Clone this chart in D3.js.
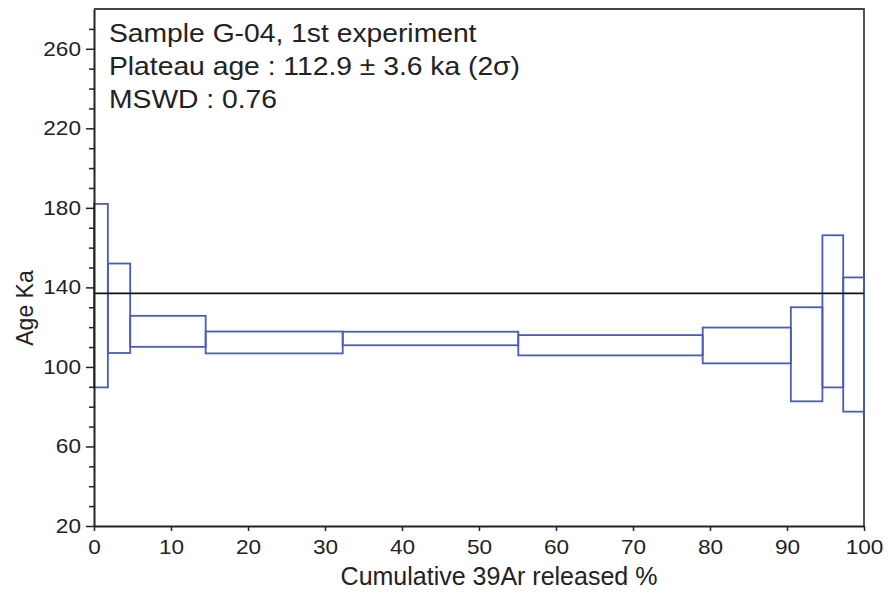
<!DOCTYPE html>
<html>
<head>
<meta charset="utf-8">
<script src="https://cdn.jsdelivr.net/npm/d3@7"></script>
<style>
  body { margin: 0; background: #fff; }
  text { font-family: "Liberation Sans", Arial, sans-serif; fill: #222; }
</style>
</head>
<body>
<svg id="chart"></svg>
<script>
// cumulative 39Ar % at each step boundary
const stepEdges = [0, 1.8, 4.7, 14.5, 32.3, 55.1, 79.05, 90.5, 94.6, 97.3, 100];
// age (ka) top and bottom of each 2-sigma box
const ageHigh = [182, 152, 125.7, 117.8, 117.7, 116, 119.8, 130, 166.2, 145];
const ageLow  = [89.7, 107, 110.1, 106.8, 110.9, 105.8, 101.8, 82.7, 89.7, 77.5];
const plateauLine = 137;

const xTicks = [0, 10, 20, 30, 40, 50, 60, 70, 80, 90, 100];
const yMajorTicks = [20, 60, 100, 140, 180, 220, 260];
const yMinorTicks = [30, 40, 50, 70, 80, 90, 110, 120, 130, 150, 160, 170, 190, 200, 210, 230, 240, 250, 270];

const notes = ['Sample G-04, 1st experiment', 'Plateau age : 112.9 \u00b1 3.6 ka (2\u03c3)', 'MSWD : 0.76'];

const size = {w: 888, h: 592};
const plot = {l: 94, r: 864, t: 9, b: 526};

const svg = d3.select('svg#chart')
    .attr('width', size.w)
    .attr('height', size.h);

const x = d3.scaleLinear().domain([0, 100]).range([plot.l, plot.r]);
const y = d3.scaleLinear().domain([20, 280]).range([plot.b, plot.t]);

const boxColor = '#4a5cb8';

//frame (top + right)
svg.append('path')
    .attr('d', `M${plot.l},${plot.t}H${plot.r}V${plot.b}`)
    .attr('fill', 'none')
    .attr('stroke', '#444')
    .attr('stroke-width', 1.8);

//STEP BOXES
const steps = ageHigh.map((d, i) => ({x0: stepEdges[i], x1: stepEdges[i + 1], hi: d, lo: ageLow[i]}));

svg.append('g')
    .selectAll('rect')
    .data(steps)
    .join('rect')
    .attr('x', d => x(d.x0))
    .attr('y', d => y(d.hi))
    .attr('width', d => x(d.x1) - x(d.x0))
    .attr('height', d => y(d.lo) - y(d.hi))
    .attr('fill', 'none')
    .attr('stroke', boxColor)
    .attr('stroke-width', 1.8);

//plateau line
svg.append('line')
    .attr('x1', x(0))
    .attr('x2', x(100))
    .attr('y1', y(plateauLine))
    .attr('y2', y(plateauLine))
    .attr('stroke', '#111')
    .attr('stroke-width', 1.6);

//AXES
const yMinor = svg.append('g')
    .attr('transform', `translate(${plot.l},0)`)
    .call(d3.axisLeft(y).tickValues(yMinorTicks).tickSize(5).tickFormat(''));
yMinor.select('.domain').remove();

const yAxis = svg.append('g')
    .attr('transform', `translate(${plot.l},0)`)
    .call(d3.axisLeft(y).tickValues(yMajorTicks).tickSize(8).tickSizeOuter(0));
yAxis.selectAll('text')
    .attr('x', 0)
    .attr('transform', 'translate(-13,0) scale(1.13,1)')
    .style('font-size', '20px');

const xAxis = svg.append('g')
    .attr('transform', `translate(0,${plot.b})`)
    .call(d3.axisBottom(x).tickValues(xTicks).tickSize(5).tickSizeOuter(0));
xAxis.selectAll('text')
    .attr('y', 0)
    .attr('dy', 0)
    .attr('transform', 'translate(0,27.5) scale(1.13,1)')
    .style('font-size', '20px');

svg.selectAll('.domain').attr('stroke', '#222').attr('stroke-width', 2);
svg.selectAll('.tick line').attr('stroke', '#222').attr('stroke-width', 1.5);

//AXIS TITLES
svg.append('text')
    .attr('x', (340 + 658) / 2)
    .attr('y', 585)
    .attr('text-anchor', 'middle')
    .style('font-size', '25px')
    .text('Cumulative 39Ar released %');

svg.append('text')
    .attr('transform', 'translate(33,308) rotate(-90)')
    .attr('text-anchor', 'middle')
    .style('font-size', '23px')
    .text('Age Ka');

//ANNOTATION
svg.append('g')
    .selectAll('text')
    .data(notes)
    .join('text')
    .attr('transform', (d, i) => `translate(109,${41.7 + i * 33.2}) scale(1.1,1)`)
    .style('font-size', '25.7px')
    .text(d => d);
</script>
</body>
</html>
